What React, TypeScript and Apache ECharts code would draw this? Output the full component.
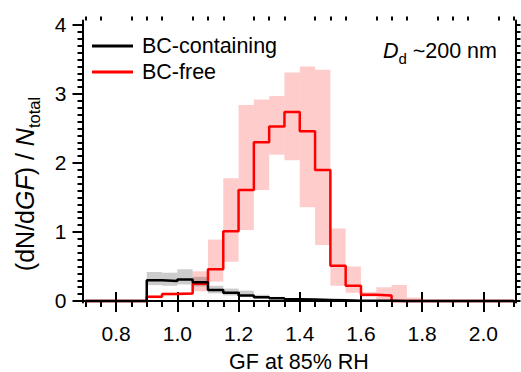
import React, { useEffect, useRef } from "react";
import * as echarts from "echarts";

// ---- data ----
const binStart = [0.70, 0.75, 0.80, 0.85, 0.90, 0.95, 1.00, 1.05, 1.10, 1.15, 1.20, 1.25, 1.30, 1.35,
  1.40, 1.45, 1.50, 1.55, 1.60, 1.65, 1.70, 1.75, 1.80, 1.85, 1.90, 1.95, 2.00, 2.05];
const binEnd = 2.10;
const bcFree = [0, 0, 0, 0, 0.06, 0.10, 0.11, 0.25, 0.46, 1.01, 1.61, 2.30, 2.53, 2.74,
  2.46, 1.90, 0.51, 0.22, 0.09, 0.08, 0, 0, 0, 0, 0, 0, 0, 0];
const bcFreeLow = [0, 0, 0, 0, 0.04, 0.08, 0.09, 0.14, 0.28, 0.57, 1.03, 1.61, 2.12, 2.04,
  1.36, 0.81, 0.22, 0.12, 0.06, 0, 0, 0, 0, 0, 0, 0, 0, 0];
const bcFreeHigh = [0, 0, 0, 0, 0.08, 0.12, 0.13, 0.43, 0.89, 1.78, 2.84, 2.92, 2.97, 3.31,
  3.40, 3.35, 1.05, 0.50, 0.13, 0.20, 0.23, 0.05, 0, 0, 0, 0, 0, 0];
const bcCont = [0, 0, 0, 0, 0.30, 0.29, 0.31, 0.27, 0.16, 0.12, 0.08, 0.055, 0.04, 0.025,
  0.02, 0.015, 0.01, 0.005, 0.003, 0.002, 0, 0, 0, 0, 0, 0, 0, 0];
const bcContLow = [0, 0, 0, 0, 0.23, 0.22, 0.24, 0.21, 0.11, 0.08, 0.06, 0.035, 0.025, 0.015,
  0.01, 0.008, 0.005, 0, 0, 0, 0, 0, 0, 0, 0, 0, 0, 0];
const bcContHigh = [0, 0, 0, 0, 0.42, 0.41, 0.46, 0.35, 0.22, 0.18, 0.15, 0.09, 0.06, 0.04,
  0.03, 0.025, 0.015, 0.01, 0, 0, 0, 0, 0, 0, 0, 0, 0, 0];

const seriesNames = ["BC-containing", "BC-free"];
const xMajorTicks = [0.8, 1.0, 1.2, 1.4, 1.6, 1.8, 2.0];
const yMajorTicks = [0, 1, 2, 3, 4];

const FONT = "Liberation Sans, Arial, Helvetica, sans-serif";
const X_MIN = 0.69, X_MAX = 2.105, Y_MIN = -0.022, Y_MAX = 4.065;

function stepData(vals: number[]) {
  const d = binStart.map((x, i) => [x, vals[i]]);
  d.push([binEnd, vals[vals.length - 1]]);
  return d;
}
function bandData(lo: number[], hi: number[]) {
  const out: number[][] = [];
  binStart.forEach((x, i) => {
    const x1 = i + 1 < binStart.length ? binStart[i + 1] : binEnd;
    if (hi[i] > lo[i]) out.push([x, x1, lo[i], hi[i]]);
  });
  return out;
}
function range(a: number, b: number, step: number) {
  const r: number[] = [];
  for (let v = a; v <= b + 1e-9; v += step) r.push(Math.round(v * 100) / 100);
  return r;
}

const xMinor = range(0.7, 2.1, 0.05).filter((v) => !xMajorTicks.some((m) => Math.abs(m - v) < 1e-6));
const yMinor = range(0, 4, 0.1).filter((v) => !yMajorTicks.some((m) => Math.abs(m - v) < 1e-6));
const yAll = range(0, 4, 0.1);

function richStyles(main: number, sub: number, subLine: number) {
  return {
    n: { fontSize: main, fontFamily: FONT, lineHeight: main, verticalAlign: "middle", fill: "#000" },
    i: { fontSize: main, fontFamily: FONT, fontStyle: "italic", lineHeight: main, verticalAlign: "middle", fill: "#000" },
    s: { fontSize: sub, fontFamily: FONT, lineHeight: subLine, verticalAlign: "bottom", fill: "#000" },
  };
}

export default function App() {
  const ref = useRef<HTMLDivElement>(null);
  useEffect(() => {
    if (!ref.current) return;
    const chart = echarts.init(ref.current, null, { renderer: "svg" });
    const axisLine = { show: true, lineStyle: { color: "#000", width: 2 } };
    const bandRender = (fill: string) => (params: any, api: any) => {
      const p0 = api.coord([api.value(0), api.value(3)]);
      const p1 = api.coord([api.value(1), api.value(2)]);
      return {
        type: "rect",
        shape: { x: p0[0], y: p0[1], width: p1[0] - p0[0], height: p1[1] - p0[1] },
        style: { fill },
      };
    };
    const baseX = { type: "value", min: X_MIN, max: X_MAX, splitLine: { show: false }, gridIndex: 0 };
    const baseY = { type: "value", min: Y_MIN, max: Y_MAX, splitLine: { show: false }, gridIndex: 0 };
    chart.setOption({
      animation: false,
      backgroundColor: "#fff",
      textStyle: { fontFamily: FONT },
      grid: {
        left: 82.5, right: 5.5, top: 20.5, bottom: 69.5,
        containLabel: false, outerBoundsMode: "none",
      },
      legend: {
        data: seriesNames,
        orient: "vertical",
        left: 92,
        top: 35,
        itemGap: 4,
        itemWidth: 41,
        itemHeight: 3,
        icon: "rect",
        padding: 0,
        textStyle: { fontSize: 21.5, color: "#000", fontFamily: FONT, padding: [0, 0, 0, 4] },
      },
      xAxis: [
        {
          ...baseX,
          position: "bottom",
          axisLine,
          axisTick: { show: true, customValues: xMajorTicks, length: 11, lineStyle: { width: 2, color: "#000" } },
          axisLabel: {
            show: true,
            customValues: xMajorTicks,
            formatter: (v: number) => v.toFixed(1),
            fontSize: 21,
            color: "#000",
            margin: 20,
            fontFamily: FONT,
          },
          name: "GF at 85% RH",
          nameLocation: "middle",
          nameGap: 49,
          nameTextStyle: { fontSize: 21.5, lineHeight: 20, color: "#000", fontFamily: FONT },
        },
        {
          ...baseX,
          position: "bottom",
          axisLine: { show: false },
          axisTick: { show: true, customValues: xMinor, length: 6, lineStyle: { width: 2, color: "#000" } },
          axisLabel: { show: false },
        },
        {
          ...baseX,
          position: "top",
          axisLine,
          axisTick: { show: true, customValues: xMajorTicks, length: 9, lineStyle: { width: 2, color: "#000" } },
          axisLabel: { show: false },
        },
        {
          ...baseX,
          position: "top",
          axisLine: { show: false },
          axisTick: { show: true, customValues: xMinor, length: 4, lineStyle: { width: 2, color: "#000" } },
          axisLabel: { show: false },
        },
      ],
      yAxis: [
        {
          ...baseY,
          position: "left",
          axisLine,
          axisTick: { show: true, customValues: yMajorTicks, length: 10, lineStyle: { width: 2, color: "#000" } },
          axisLabel: {
            show: true,
            customValues: yMajorTicks,
            fontSize: 21,
            color: "#000",
            margin: 16,
            fontFamily: FONT,
          },
        },
        {
          ...baseY,
          position: "left",
          axisLine: { show: false },
          axisTick: { show: true, customValues: yMinor, length: 5, lineStyle: { width: 2, color: "#000" } },
          axisLabel: { show: false },
        },
        {
          ...baseY,
          position: "right",
          axisLine,
          axisTick: { show: true, customValues: yAll, length: 5, lineStyle: { width: 2, color: "#000" } },
          axisLabel: { show: false },
        },
      ],
      series: [
        {
          type: "custom",
          name: "BC-free range",
          renderItem: bandRender("rgba(255,0,0,0.2)"),
          data: bandData(bcFreeLow, bcFreeHigh),
          encode: { x: [0, 1], y: [2, 3] },
          z: 1,
          silent: true,
        },
        {
          type: "custom",
          name: "BC-containing range",
          renderItem: bandRender("rgba(0,0,0,0.2)"),
          data: bandData(bcContLow, bcContHigh),
          encode: { x: [0, 1], y: [2, 3] },
          z: 1,
          silent: true,
        },
        {
          type: "line",
          name: "BC-free",
          step: "end",
          data: stepData(bcFree),
          showSymbol: false,
          symbol: "none",
          color: "#ff0000",
          lineStyle: { color: "#ff0000", width: 2.5 },
          itemStyle: { color: "#ff0000" },
          z: 3,
        },
        {
          type: "line",
          name: "BC-containing",
          step: "end",
          data: stepData(bcCont),
          showSymbol: false,
          symbol: "none",
          color: "#000000",
          lineStyle: { color: "#000000", width: 2.5 },
          itemStyle: { color: "#000000" },
          z: 4,
        },
      ],
      graphic: [
        {
          type: "text",
          x: 25,
          y: 184,
          rotation: Math.PI / 2,
          style: {
            text: "{n|(dN/d}{i|GF}{n|) / }{i|N}{s|total}",
            align: "center",
            verticalAlign: "middle",
            fill: "#000",
            rich: richStyles(25, 16.5, 34),
          },
        },
        {
          type: "text",
          x: 497,
          y: 51,
          style: {
            text: "{i|D}{s|d}{n| ~200 nm}",
            align: "right",
            verticalAlign: "middle",
            fill: "#000",
            rich: richStyles(21.5, 15, 29),
          },
        },
      ],
    });
    return () => chart.dispose();
  }, []);
  return (
    <div
      ref={ref}
      style={{ position: "fixed", left: 0, top: 0, width: 521, height: 372, background: "#fff" }}
    />
  );
}
